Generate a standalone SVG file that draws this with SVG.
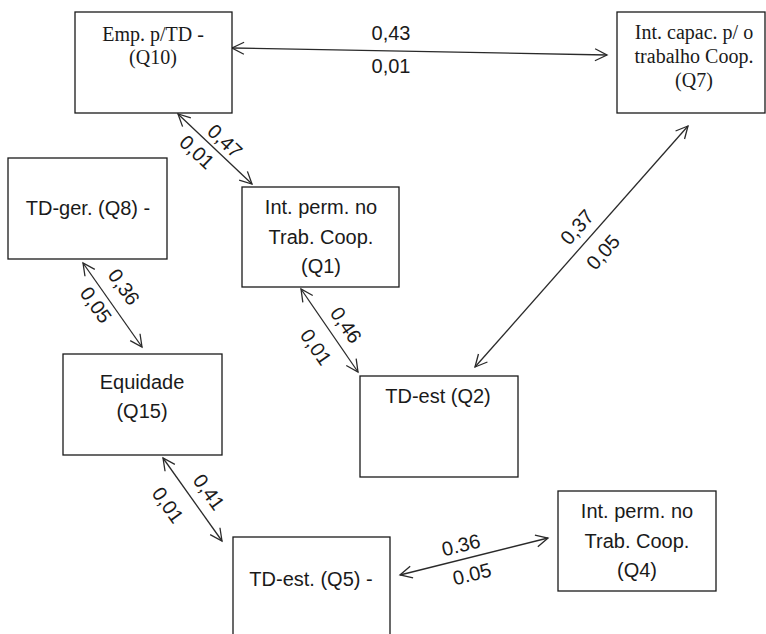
<svg xmlns="http://www.w3.org/2000/svg" width="766" height="634" viewBox="0 0 766 634">
  <style>
    .box { fill: #ffffff; stroke: #1a1a1a; stroke-width: 1.3; }
    .serif { font-family: "Liberation Serif", "Times New Roman", serif; font-size: 20px; fill: #1a1a1a; text-anchor: middle; }
    .sans { font-family: "Liberation Sans", Arial, sans-serif; font-size: 20px; fill: #1a1a1a; text-anchor: middle; }
    .lbl { font-family: "Liberation Sans", Arial, sans-serif; font-size: 20px; fill: #1a1a1a; text-anchor: middle; }
    .edge { fill: none; stroke: #2a2a2a; stroke-width: 1.3; marker-start: url(#head); marker-end: url(#head); }
  </style>
  <defs>
    <marker id="head" viewBox="-14 -8 16 16" refX="0" refY="0" markerWidth="16" markerHeight="16" markerUnits="userSpaceOnUse" orient="auto-start-reverse">
      <path d="M-12,-6 L0,0 L-12,6" fill="none" stroke="#2a2a2a" stroke-width="1.3"/>
    </marker>
  </defs>
  <rect width="766" height="634" fill="#ffffff"/>

  <!-- connectors with their correlation labels -->
  <g id="connectors">
    <line class="edge" x1="232" y1="48" x2="607" y2="55"/>
    <text class="lbl" x="391" y="40">0,43</text>
    <text class="lbl" x="391" y="73">0,01</text>

    <line class="edge" x1="178" y1="114" x2="252" y2="184"/>
    <text class="lbl" transform="translate(225,141) rotate(43.4)" y="7">0,47</text>
    <text class="lbl" transform="translate(197,152) rotate(43.4)" y="7">0,01</text>

    <line class="edge" x1="83" y1="263" x2="142" y2="347"/>
    <text class="lbl" transform="translate(124,287) rotate(54.9)" y="7">0,36</text>
    <text class="lbl" transform="translate(96,305) rotate(54.9)" y="7">0,05</text>

    <line class="edge" x1="301" y1="289" x2="358" y2="372"/>
    <text class="lbl" transform="translate(346,325) rotate(55.5)" y="7">0,46</text>
    <text class="lbl" transform="translate(316,347) rotate(55.5)" y="7">0,01</text>

    <line class="edge" x1="475" y1="367" x2="688" y2="126"/>
    <text class="lbl" transform="translate(577,227) rotate(-48.5)" y="7">0,37</text>
    <text class="lbl" transform="translate(603,252) rotate(-48.5)" y="7">0,05</text>

    <line class="edge" x1="163" y1="458" x2="222" y2="541"/>
    <text class="lbl" transform="translate(209,492) rotate(54.6)" y="7">0,41</text>
    <text class="lbl" transform="translate(168,505) rotate(54.6)" y="7">0,01</text>

    <line class="edge" x1="400" y1="575" x2="548" y2="538"/>
    <text class="lbl" transform="translate(461,545) rotate(-14)" y="7">0.36</text>
    <text class="lbl" transform="translate(472,574) rotate(-14)" y="7">0.05</text>
  </g>

  <g id="q10">
    <rect class="box" x="75" y="12" width="157" height="101"/>
    <text class="serif" x="153" y="41">Emp. p/TD -</text>
    <text class="serif" x="153" y="64">(Q10)</text>
  </g>

  <g id="q7">
    <rect class="box" x="617" y="12" width="148" height="101"/>
    <text class="serif" x="694" y="39">Int. capac. p/ o</text>
    <text class="serif" x="694" y="63">trabalho Coop.</text>
    <text class="serif" x="694" y="87">(Q7)</text>
  </g>

  <g id="q8">
    <rect class="box" x="8" y="158" width="159" height="101"/>
    <text class="sans" x="88" y="215">TD-ger. (Q8) -</text>
  </g>

  <g id="q1">
    <rect class="box" x="242" y="187" width="157" height="100"/>
    <text class="sans" x="321" y="214">Int. perm. no</text>
    <text class="sans" x="321" y="244">Trab. Coop.</text>
    <text class="sans" x="321" y="273">(Q1)</text>
  </g>

  <g id="q15">
    <rect class="box" x="63" y="354" width="159" height="101"/>
    <text class="sans" x="142" y="389">Equidade</text>
    <text class="sans" x="142" y="418">(Q15)</text>
  </g>

  <g id="q2">
    <rect class="box" x="360" y="376" width="158" height="101"/>
    <text class="sans" x="438" y="403">TD-est (Q2)</text>
  </g>

  <g id="q4">
    <rect class="box" x="558" y="491" width="158" height="100"/>
    <text class="sans" x="637" y="518">Int. perm. no</text>
    <text class="sans" x="637" y="548">Trab. Coop.</text>
    <text class="sans" x="637" y="577">(Q4)</text>
  </g>

  <g id="q5">
    <rect class="box" x="233" y="537" width="157" height="110"/>
    <text class="sans" x="311" y="586">TD-est. (Q5) -</text>
  </g>
</svg>
